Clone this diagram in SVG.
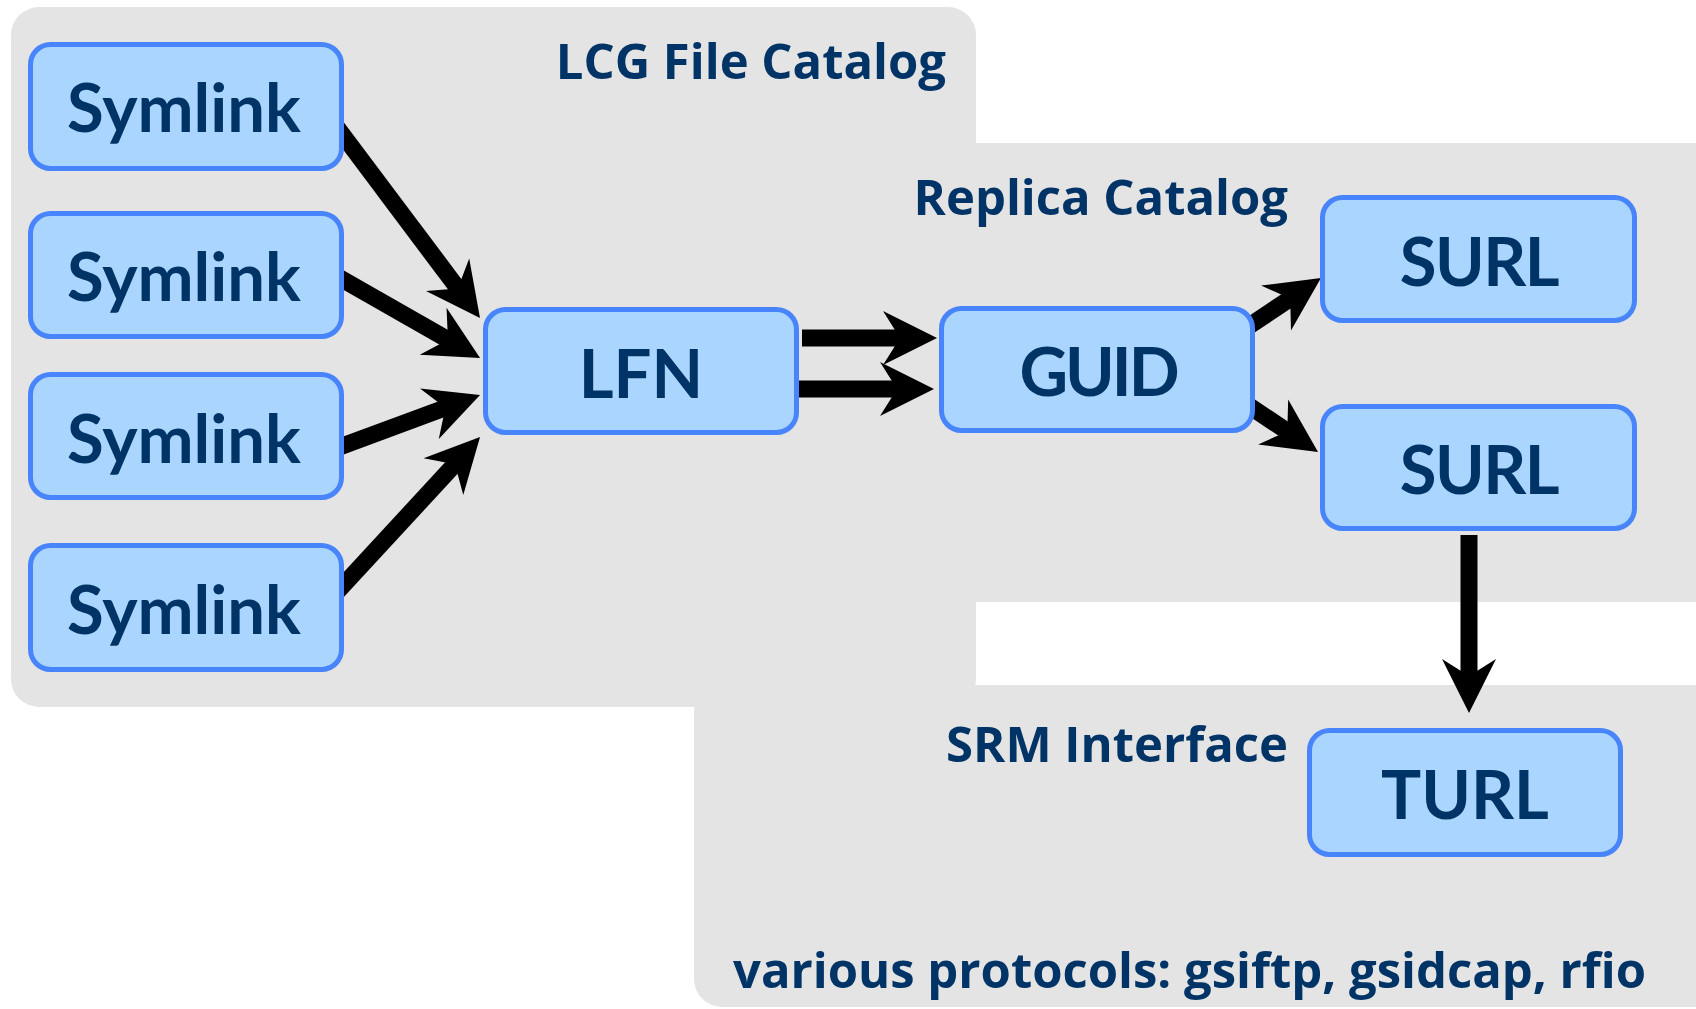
<svg xmlns="http://www.w3.org/2000/svg" width="1696" height="1009" viewBox="0 0 1696 1009">
  <style>
    .panel { fill: #e4e4e4; }
    .box { fill: #a9d5fe; stroke: #4884fb; stroke-width: 5; }
    .node-label { font-family: Lato, "Open Sans", "Liberation Sans", sans-serif; font-weight: 700; font-size: 67px; fill: #003366; text-anchor: middle; }
    .tight { letter-spacing: -3px; }
    .panel-label { font-family: "Open Sans", "Liberation Sans", sans-serif; font-weight: 700; font-size: 49px; fill: #003366; text-anchor: end; }
    .link { stroke: #000; stroke-width: 17; fill: none; stroke-linecap: butt; marker-end: url(#head); }
  </style>
  <defs>
    <!-- stealth arrowhead; the line ends 30px behind the tip -->
    <marker id="head" markerUnits="userSpaceOnUse" viewBox="-30 -30 64 60" refX="0" refY="0" markerWidth="64" markerHeight="60" orient="auto" overflow="visible">
      <path d="M30,0 L-24,-27 L-7,0 L-24,27 Z" fill="#000"/>
    </marker>
  </defs>

  <rect width="1696" height="1009" fill="#ffffff"/>

  <!-- catalogue panels -->
  <g id="panels">
    <rect class="panel" x="700" y="143" width="1010" height="459"/>
    <rect class="panel" x="694" y="685" width="1040" height="322" rx="28"/>
    <rect class="panel" x="11" y="7" width="965" height="700" rx="28"/>
  </g>

  <!-- connectors -->
  <g id="connectors">
    <line class="link" x1="330" y1="118" x2="462" y2="294"/>
    <line class="link" x1="330" y1="272.3" x2="454" y2="343.1"/>
    <line class="link" x1="330" y1="450.5" x2="451.9" y2="405.4"/>
    <line class="link" x1="330" y1="599.6" x2="459.7" y2="459"/>
    <line class="link" x1="802" y1="338" x2="907" y2="338"/>
    <line class="link" x1="790" y1="389" x2="904" y2="389"/>
    <line class="link" x1="1245" y1="328.7" x2="1296" y2="294.7"/>
    <line class="link" x1="1245" y1="403.1" x2="1293.1" y2="435.3"/>
    <line class="link" x1="1469" y1="535" x2="1469" y2="683"/>
  </g>

  <!-- nodes -->
  <g id="symlink1">
    <rect class="box" x="30.5" y="44.5" width="311" height="124" rx="20"/>
    <text class="node-label" x="184" y="132">Symlink</text>
  </g>
  <g id="symlink2">
    <rect class="box" x="30.5" y="213.5" width="311" height="123" rx="20"/>
    <text class="node-label" x="184" y="301">Symlink</text>
  </g>
  <g id="symlink3">
    <rect class="box" x="30.5" y="374.5" width="311" height="123" rx="20"/>
    <text class="node-label" x="184" y="463">Symlink</text>
  </g>
  <g id="symlink4">
    <rect class="box" x="30.5" y="545.5" width="311" height="124" rx="20"/>
    <text class="node-label" x="184" y="634">Symlink</text>
  </g>
  <g id="lfn">
    <rect class="box" x="485.5" y="309.5" width="311" height="123" rx="20"/>
    <text class="node-label" x="641" y="398">LFN</text>
  </g>
  <g id="guid">
    <rect class="box" x="941.5" y="308.5" width="311" height="122" rx="20"/>
    <text class="node-label tight" x="1098" y="396">GUID</text>
  </g>
  <g id="surl1">
    <rect class="box" x="1322.5" y="197.5" width="312" height="123" rx="20"/>
    <text class="node-label" x="1479" y="286" letter-spacing="-1.5">SURL</text>
  </g>
  <g id="surl2">
    <rect class="box" x="1322.5" y="406.5" width="312" height="122" rx="20"/>
    <text class="node-label" x="1479" y="494" letter-spacing="-1.5">SURL</text>
  </g>
  <g id="turl">
    <rect class="box" x="1309.5" y="730.5" width="311" height="124" rx="20"/>
    <text class="node-label" x="1465" y="819">TURL</text>
  </g>

  <!-- panel captions -->
  <g id="captions">
    <text class="panel-label" x="946" y="79">LCG File Catalog</text>
    <text class="panel-label" x="1288" y="215">Replica Catalog</text>
    <text class="panel-label" x="1288" y="762">SRM Interface</text>
    <text class="panel-label" x="1646" y="988">various protocols: gsiftp, gsidcap, rfio</text>
  </g>
</svg>
